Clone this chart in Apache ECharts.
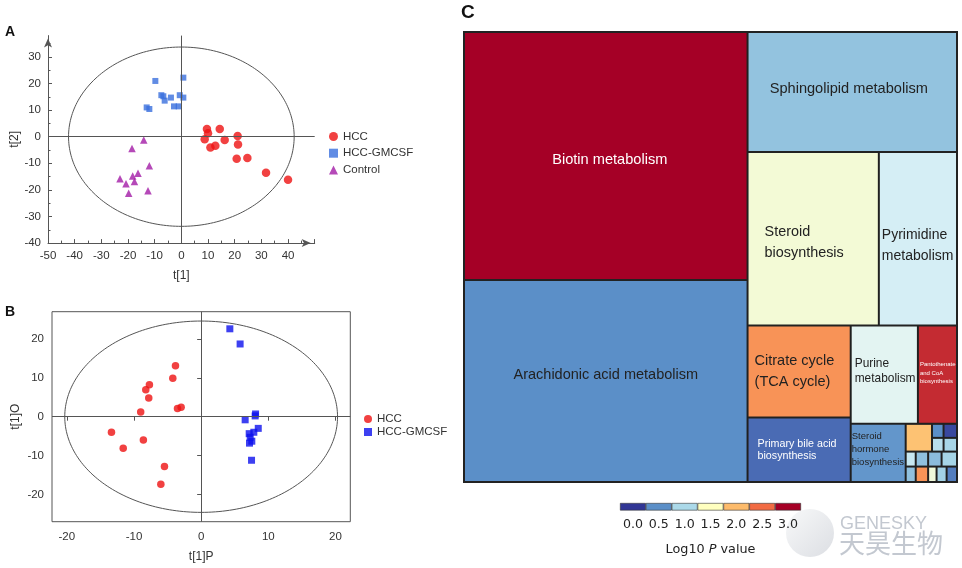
<!DOCTYPE html>
<html><head><meta charset="utf-8">
<script src="https://cdn.jsdelivr.net/npm/echarts@6/dist/echarts.min.js"></script>
<style>html,body{margin:0;padding:0;background:#fff}#c{width:962px;height:568px}</style>
</head><body><div id="c"></div>
<script>
// ---------- Panel A (PCA scores) ----------
const aHCC = [[9.6,2.9],[10,1.25],[8.75,-1.0],[14.4,2.9],[10.9,-4.1],[12.75,-3.4],[16.25,-1.25],[21.1,0.25],[21.25,-2.9],[20.75,-8.3],[24.75,-8.0],[31.75,-13.55],[40,-16.2]];
const aGMCSF = [[-9.75,20.95],[0.75,22.2],[-7.5,15.6],[-6.75,15.2],[-6.25,13.55],[-3.9,14.7],[-0.6,15.6],[0.75,14.7],[-13,11.0],[-12,10.4],[-2.75,11.4],[-1,11.4]];
const aControl = [[-14.1,-1.25],[-18.5,-4.4],[-12,-10.9],[-23,-15.8],[-20.75,-17.7],[-18.25,-14.8],[-16.25,-13.7],[-17.6,-16.8],[-19.75,-21.3],[-12.5,-20.3]];
const aEllipseAxes = [42.3, 33.7];
const aYTicks = [-40,-30,-20,-10,0,10,20,30];

// ---------- Panel B (OPLS-DA scores) ----------
const bHCC = [[-3.82,13.1],[-4.22,9.9],[-7.7,8.2],[-8.24,6.9],[-7.8,4.8],[-9.0,1.2],[-3.52,2.1],[-2.98,2.4],[-13.35,-4.0],[-8.6,-6.0],[-11.6,-8.1],[-5.46,-12.8],[-6.0,-17.4]];
const bGMCSF = [[4.27,22.6],[5.8,18.7],[8.1,0.7],[8.04,0.2],[6.55,-0.8],[8.5,-3.0],[7.84,-4.0],[7.15,-4.36],[7.3,-5.3],[7.54,-6.3],[7.2,-6.8],[7.5,-11.2]];
const bEllipseAxes = [20.3, 24.6];
const bTicks = [-20,-10,0,10,20];

// ---------- Panel C (pathway treemap) ----------
const pathwayNames = ['Biotin metabolism','Arachidonic acid metabolism','Sphingolipid metabolism','Steroid biosynthesis','Pyrimidine metabolism','Citrate cycle (TCA cycle)','Primary bile acid biosynthesis','Purine metabolism','Pantothenate and CoA biosynthesis','Steroid hormone biosynthesis',
  'Minor pathway 1','Minor pathway 2','Minor pathway 3','Minor pathway 4','Minor pathway 5','Minor pathway 6','Minor pathway 7','Minor pathway 8','Minor pathway 9','Minor pathway 10','Minor pathway 11','Minor pathway 12','Minor pathway 13','Minor pathway 14'];
const pathwaySize = [701.8,571.7,250.8,227.3,135.3,94.8,66.4,66.0,38.4,31.9,7.28,1.62,1.88,1.59,1.84,1.50,1.55,1.85,1.91,2.01,2.30,1.30,1.55,1.60];
const pathwayLog10P = [3.0,0.5,0.85,1.4,1.2,2.25,0.3,1.275,2.8,0.55,1.95,0.5,0.1,1.06,0.98,1.13,0.83,0.83,2.25,0.8,0.97,1.38,0.95,0.4];
// grouping of pathway indices (tiling hierarchy)
const smallNest = [[10,[[11,12],[13,14]]],[[15,16],[17,18],[[19,20],[21,22,23]]]];
const pathwayNesting = [[0,1],[2,[[3,4],[[5,6],[[7,8],[9,smallNest]]]]]];
const legendTicks = ['0.0','0.5','1.0','1.5','2.0','2.5','3.0'];
const legendValues = [0,0.5,1,1.5,2,2.5,3];
const paletteValues = [0,0.5,1.0,1.25,1.5,2.0,2.5,3.0];
const paletteColors = ['#313695','#5b8fc8','#abd9e9','#e0f3f8','#ffffbf','#fdbb6b','#f26b43','#a50026'];

// ---------- styles ----------
const LF = 'Liberation Sans, Arial, sans-serif';
const labelStyles = {
  'Biotin metabolism': {position:'inside', fontSize:14.6, color:'#fff', offset:[4,4]},
  'Arachidonic acid metabolism': {position:'inside', fontSize:14.5, color:'#222', offset:[0,-6]},
  'Sphingolipid metabolism': {position:'inside', fontSize:14.6, color:'#222', offset:[-3.5,-3]},
  'Steroid biosynthesis': {text:'Steroid\nbiosynthesis', position:'insideLeft', distance:16, fontSize:14.4, lineHeight:20.6, color:'#222', offset:[0,4]},
  'Pyrimidine metabolism': {text:'Pyrimidine\nmetabolism', position:'insideLeft', distance:2, fontSize:14, lineHeight:20.3, color:'#222', offset:[0,7]},
  'Citrate cycle (TCA cycle)': {text:'Citrate cycle\n(TCA cycle)', position:'insideLeft', distance:6, fontSize:14.5, lineHeight:21, color:'#222', offset:[0,0]},
  'Purine metabolism': {text:'Purine\nmetabolism', position:'insideLeft', distance:3, fontSize:11.9, lineHeight:15.7, color:'#222', offset:[0,-3.5]},
  'Pantothenate and CoA biosynthesis': {text:'Pantothenate\nand CoA\nbiosynthesis', position:'insideLeft', distance:1, fontSize:6, lineHeight:8.7, color:'#fff', offset:[0,-1.7]},
  'Primary bile acid biosynthesis': {text:'Primary bile acid\nbiosynthesis', position:'insideLeft', distance:9, fontSize:10.7, lineHeight:12.4, color:'#fff', offset:[0,0]},
  'Steroid hormone biosynthesis': {text:'Steroid\nhormone\nbiosynthesis', position:'insideLeft', distance:0, fontSize:9.5, lineHeight:13, color:'#222', offset:[0,-3.4]}
};

function colorFor(v) {
  const x = Math.max(paletteValues[0], Math.min(paletteValues[paletteValues.length - 1], v));
  let k = 0;
  while (k < paletteValues.length - 2 && x > paletteValues[k + 1]) k++;
  const t = (x - paletteValues[k]) / (paletteValues[k + 1] - paletteValues[k]);
  return echarts.color.lerp(t, [paletteColors[k], paletteColors[k + 1]]);
}
function buildNode(n) {
  if (typeof n === 'number') {
    const name = pathwayNames[n];
    const s = labelStyles[name];
    const label = s ? {
      show: true, position: s.position, distance: s.distance || 0, offset: s.offset || [0,0],
      formatter: s.text || name, color: s.color, fontSize: s.fontSize, lineHeight: s.lineHeight,
      fontFamily: LF, padding: 0, overflow: 'none'
    } : {show: false};
    return {name: name, value: pathwaySize[n],
      itemStyle: {color: colorFor(pathwayLog10P[n]), borderWidth: 1, borderColor: '#222'},
      label: label};
  }
  return {name: '', children: n.map(buildNode), itemStyle: {borderWidth: 0, borderColor: '#222', gapWidth: 0}};
}
function ellipse(ab) {
  const pts = [];
  for (let k = 0; k <= 240; k++) { const t = 2 * Math.PI * k / 240; pts.push([ab[0] * Math.cos(t), ab[1] * Math.sin(t)]); }
  return pts;
}
const refLines = {silent: true, symbol: 'none', label: {show: false}, lineStyle: {color: '#555', width: 1, type: 'solid'}, data: [{yAxis: 0}, {xAxis: 0}]};
const tickLab = {fontSize: 11.5, color: '#333', fontFamily: LF};

const chart = echarts.init(document.getElementById('c'));
chart.setOption({
  animation: false,
  backgroundColor: '#fff',
  textStyle: {fontFamily: LF},
  graphic: [
    {type: 'text', left: 5, top: 25, style: {text: 'A', font: 'bold 14px "Liberation Sans"', fill: '#111'}},
    {type: 'text', left: 5, top: 305, style: {text: 'B', font: 'bold 14px "Liberation Sans"', fill: '#111'}},
    {type: 'text', left: 461, top: 3, style: {text: 'C', font: 'bold 19px "Liberation Sans"', fill: '#111'}},
    {type: 'circle', z: -1, shape: {cx: 810, cy: 533, r: 24}, style: {fill: new echarts.graphic.LinearGradient(0, 0, 1, 1, [{offset: 0, color: '#f6f7f8'}, {offset: 1, color: '#d3d6dc'}]), opacity: 0.8}},
    {type: 'text', left: 840, top: 515, style: {text: 'GENESKY', font: '18px "Liberation Sans"', fill: '#c3c8d0'}},
    {type: 'text', left: 839, top: 530, style: {text: '天昊生物', font: '26px "Noto Sans CJK SC"', fill: '#c3c8d0'}}
  ],
  legend: [
    {data: ['HCC','HCC-GMCSF','Control'], orient: 'vertical', left: 324, top: 125, itemWidth: 9, itemHeight: 9, itemGap: 3.7, selectedMode: false,
     textStyle: {fontSize: 11.5, color: '#333', lineHeight: 13, fontFamily: LF}},
    {data: ['HCC (B)','HCC-GMCSF (B)'], orient: 'vertical', left: 359, top: 408, itemWidth: 8, itemHeight: 8, itemGap: 1, selectedMode: false,
     formatter: n => n.replace(' (B)', ''), textStyle: {fontSize: 11.5, color: '#333', lineHeight: 9, fontFamily: LF}}
  ],
  grid: [
    {left: 48, top: 35.6, width: 266.7, height: 207.5},
    {left: 52, top: 311.7, width: 298.3, height: 210, show: true, borderColor: '#555', borderWidth: 1},
    {left: 620, top: 503, width: 181, height: 7.5}
  ],
  xAxis: [
    {gridIndex: 0, type: 'value', min: -50, max: 50, interval: 10,
     axisLine: {show: true, onZero: false, symbol: ['none','arrow'], symbolSize: [6,9], symbolOffset: [0,-4], lineStyle: {color: '#555', width: 1}},
     axisTick: {show: true, inside: true, length: 4, lineStyle: {color: '#555'}},
     minorTick: {show: true, splitNumber: 2, length: 2.5, lineStyle: {color: '#555'}},
     axisLabel: Object.assign({showMaxLabel: false, margin: 7}, tickLab),
     splitLine: {show: false}, minorSplitLine: {show: false},
     name: 't[1]', nameLocation: 'middle', nameGap: 27, nameTextStyle: {fontSize: 12, color: '#333', fontFamily: LF}},
    {gridIndex: 1, type: 'value', min: -22.2, max: 22.2,
     axisLine: {show: false},
     axisTick: {show: true, length: 4, customValues: bTicks, lineStyle: {color: '#555'}},
     axisLabel: Object.assign({margin: 9, customValues: bTicks}, tickLab),
     splitLine: {show: false},
     name: 't[1]P', nameLocation: 'middle', nameGap: 29, nameTextStyle: {fontSize: 12, color: '#333', fontFamily: LF}},
    {gridIndex: 2, type: 'category', data: legendTicks, boundaryGap: true,
     axisLine: {show: false}, axisTick: {show: false},
     axisLabel: {interval: 0, margin: 8, fontSize: 12.6, color: '#222', fontFamily: 'DejaVu Sans'},
     name: '{a|Log10 }{i|P}{a| value}', nameLocation: 'middle', nameGap: 33,
     nameTextStyle: {rich: {a: {fontSize: 12.8, color: '#222', fontFamily: 'DejaVu Sans'}, i: {fontSize: 12.8, color: '#222', fontStyle: 'italic', fontFamily: 'DejaVu Sans'}}}}
  ],
  yAxis: [
    {gridIndex: 0, type: 'value', min: -40, max: 38, interval: 10,
     axisLine: {show: true, onZero: false, symbol: ['none','arrow'], symbolSize: [6,9], symbolOffset: [0,-3], lineStyle: {color: '#555', width: 1}},
     axisTick: {show: true, inside: true, length: 4, customValues: aYTicks, lineStyle: {color: '#555'}},
     minorTick: {show: true, splitNumber: 2, length: 2.5, lineStyle: {color: '#555'}},
     axisLabel: Object.assign({margin: 7, customValues: aYTicks}, tickLab),
     splitLine: {show: false}, minorSplitLine: {show: false},
     name: 't[2]', nameLocation: 'middle', nameGap: 27, nameTextStyle: {fontSize: 12, color: '#333', fontFamily: LF}},
    {gridIndex: 1, type: 'value', min: -27, max: 27,
     axisLine: {show: false},
     axisTick: {show: true, length: 4, customValues: bTicks, lineStyle: {color: '#555'}},
     axisLabel: Object.assign({margin: 8, customValues: bTicks}, tickLab),
     splitLine: {show: false},
     name: 't[1]O', nameLocation: 'middle', nameGap: 30, nameTextStyle: {fontSize: 12, color: '#333', fontFamily: LF}},
    {gridIndex: 2, type: 'value', min: 0, max: 1, show: false}
  ],
  series: [
    {type: 'line', xAxisIndex: 0, yAxisIndex: 0, data: ellipse(aEllipseAxes), showSymbol: false, symbol: 'none', silent: true,
     lineStyle: {color: '#555', width: 1}, z: 1, markLine: refLines},
    {name: 'HCC', type: 'scatter', xAxisIndex: 0, yAxisIndex: 0, data: aHCC, symbol: 'circle', symbolSize: 8.5, itemStyle: {color: '#ee1111'}, z: 3},
    {name: 'HCC-GMCSF', type: 'scatter', xAxisIndex: 0, yAxisIndex: 0, data: aGMCSF, symbol: 'rect', symbolSize: 6, itemStyle: {color: '#3a6fdd'}, z: 3},
    {name: 'Control', type: 'scatter', xAxisIndex: 0, yAxisIndex: 0, data: aControl, symbol: 'triangle', symbolSize: 7.5, itemStyle: {color: '#a21ba6'}, z: 3},
    {type: 'line', xAxisIndex: 1, yAxisIndex: 1, data: ellipse(bEllipseAxes), showSymbol: false, symbol: 'none', silent: true,
     lineStyle: {color: '#555', width: 1}, z: 1, markLine: refLines},
    {name: 'HCC (B)', type: 'scatter', xAxisIndex: 1, yAxisIndex: 1, data: bHCC, symbol: 'circle', symbolSize: 7.5, itemStyle: {color: '#ee1111'}, z: 3},
    {name: 'HCC-GMCSF (B)', type: 'scatter', xAxisIndex: 1, yAxisIndex: 1, data: bGMCSF, symbol: 'rect', symbolSize: 7, itemStyle: {color: '#0d10ee'}, z: 3},
    {type: 'bar', xAxisIndex: 2, yAxisIndex: 2, barWidth: '100%', silent: true,
     data: legendValues.map(v => ({value: 1, itemStyle: {color: colorFor(v), borderColor: '#333', borderWidth: 0.6}}))},
    {type: 'treemap', left: 463, top: 31, width: 495, height: 452,
     roam: false, nodeClick: false, breadcrumb: {show: false}, sort: false, squareRatio: 0.01, visibleMin: 0,
     itemStyle: {borderWidth: 0, gapWidth: 0, borderColor: '#222'},
     levels: [{itemStyle: {borderWidth: 1, borderColor: '#222', gapWidth: 0}}],
     label: {show: true, padding: 0},
     emphasis: {disabled: true},
     data: pathwayNesting.map(buildNode)}
  ]
});
</script></body></html>
